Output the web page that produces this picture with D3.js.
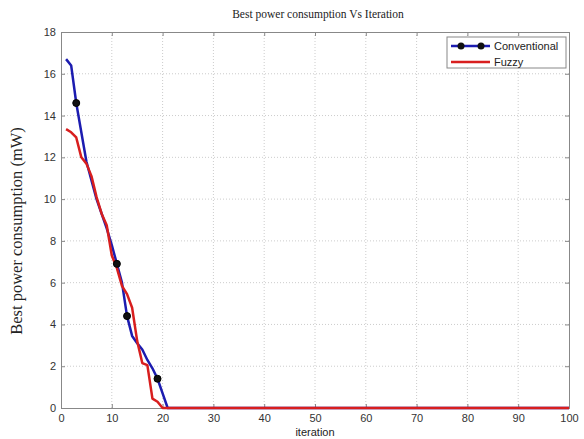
<!DOCTYPE html>
<html><head><meta charset="utf-8">
<script src="https://cdn.jsdelivr.net/npm/d3@7"></script>
<style>body{margin:0;background:#fff}svg{display:block}</style>
</head><body>
<svg id="c" width="584" height="439"></svg>
<script>
const title = "Best power consumption Vs Iteration";
const xLabel = "iteration";
const yLabel = "Best power consumption (mW)";
const seriesNames = ["Conventional", "Fuzzy"];
const xTicks = [0,10,20,30,40,50,60,70,80,90,100];
const yTicks = [0,2,4,6,8,10,12,14,16,18];
const iterations = [1,2,3,4,5,6,7,8,9,10,11,12,13,14,15,16,17,18,19,20,21,30,40,50,60,70,80,90,100];
const conventional = [16.7,16.4,14.6,13.2,11.8,10.9,10.0,9.3,8.6,7.8,6.9,6.0,4.4,3.45,3.1,2.8,2.3,1.9,1.4,0.7,0,0,0,0,0,0,0,0,0];
const fuzzy = [13.35,13.2,12.95,12.0,11.7,11.1,10.1,9.3,8.75,7.3,6.7,5.85,5.45,4.8,3.2,2.15,2.05,0.45,0.3,0,0,0,0,0,0,0,0,0,0];
const markerIters = [3,11,13,19];

const svg = d3.select("#c");
const L=61,R=569,T=32,B=408;
const x = d3.scaleLinear().domain([0,100]).range([L,R]);
const y = d3.scaleLinear().domain([0,18]).range([B,T]);
const axisColor="#888";

// grid
const g = svg.append("g");
g.selectAll(".gx").data(xTicks.slice(1,-1)).enter().append("line")
 .attr("x1",d=>x(d)).attr("x2",d=>x(d)).attr("y1",T).attr("y2",B)
 .attr("stroke","#ccc").attr("stroke-width",1).attr("stroke-dasharray","1,2");
g.selectAll(".gy").data(yTicks.slice(1,-1)).enter().append("line")
 .attr("y1",d=>y(d)).attr("y2",d=>y(d)).attr("x1",L).attr("x2",R)
 .attr("stroke","#ccc").attr("stroke-width",1).attr("stroke-dasharray","1,2");

// axes
const xa = svg.append("g").attr("transform",`translate(0,${B})`)
 .call(d3.axisBottom(x).tickValues(xTicks).tickSize(-4).tickPadding(6).tickFormat(d3.format("d")));
const xt = svg.append("g").attr("transform",`translate(0,${T})`)
 .call(d3.axisTop(x).tickValues(xTicks).tickSize(-4).tickFormat(""));
const ya = svg.append("g").attr("transform",`translate(${L},0)`)
 .call(d3.axisLeft(y).tickValues(yTicks).tickSize(-4).tickPadding(5).tickFormat(d3.format("d")));
const yr = svg.append("g").attr("transform",`translate(${R},0)`)
 .call(d3.axisRight(y).tickValues(yTicks).tickSize(-4).tickFormat(""));
[xa,xt,ya,yr].forEach(a=>{
  a.selectAll("path").attr("stroke",axisColor);
  a.selectAll("line").attr("stroke",axisColor);
  a.selectAll("text").attr("fill","#333").attr("font-family","Liberation Sans, Arial, sans-serif").attr("font-size",11);
});

// lines
const line = d3.line().x(d=>x(d[0])).y(d=>y(d[1]));
const convData = iterations.map((t,i)=>[t,conventional[i]]);
const fuzzData = iterations.map((t,i)=>[t,fuzzy[i]]);
svg.append("path").datum(convData).attr("d",line).attr("fill","none")
 .attr("stroke","#1c1cb0").attr("stroke-width",2.5).attr("stroke-linejoin","round");
svg.append("path").datum(fuzzData).attr("d",line).attr("fill","none")
 .attr("stroke","#d81e1e").attr("stroke-width",2.5).attr("stroke-linejoin","round");
svg.selectAll(".mk").data(convData.filter(d=>markerIters.includes(d[0]))).enter().append("circle")
 .attr("cx",d=>x(d[0])).attr("cy",d=>y(d[1])).attr("r",3.5).attr("fill","#111").attr("stroke","#000");

// legend
const lg = svg.append("g");
lg.append("rect").attr("x",447).attr("y",37).attr("width",119).attr("height",31)
 .attr("fill","#fff").attr("stroke","#888");
lg.append("line").attr("x1",451).attr("x2",490).attr("y1",46).attr("y2",46).attr("stroke","#1c1cb0").attr("stroke-width",2.5);
[461,481].forEach(cx=>lg.append("circle").attr("cx",cx).attr("cy",46).attr("r",3.5).attr("fill","#111"));
lg.append("line").attr("x1",451).attr("x2",490).attr("y1",62).attr("y2",62).attr("stroke","#d81e1e").attr("stroke-width",2.5);
lg.append("text").attr("x",494).attr("y",50).text(seriesNames[0]).attr("font-family","Liberation Sans, Arial, sans-serif").attr("font-size",11).attr("fill","#222");
lg.append("text").attr("x",494).attr("y",66).text(seriesNames[1]).attr("font-family","Liberation Sans, Arial, sans-serif").attr("font-size",11).attr("fill","#222");

// titles
svg.append("text").attr("x",318).attr("y",18).attr("text-anchor","middle").text(title)
 .attr("font-family","Liberation Serif, Times New Roman, serif").attr("font-size",11.5).attr("fill","#222");
svg.append("text").attr("x",315).attr("y",436).attr("text-anchor","middle").text(xLabel)
 .attr("font-family","Liberation Sans, Arial, sans-serif").attr("font-size",11).attr("fill","#222");
svg.append("text").attr("transform","translate(22,231) rotate(-90)").attr("text-anchor","middle").text(yLabel)
 .attr("font-family","Liberation Serif, Times New Roman, serif").attr("font-size",16.5).attr("fill","#222");
</script>
</body></html>
